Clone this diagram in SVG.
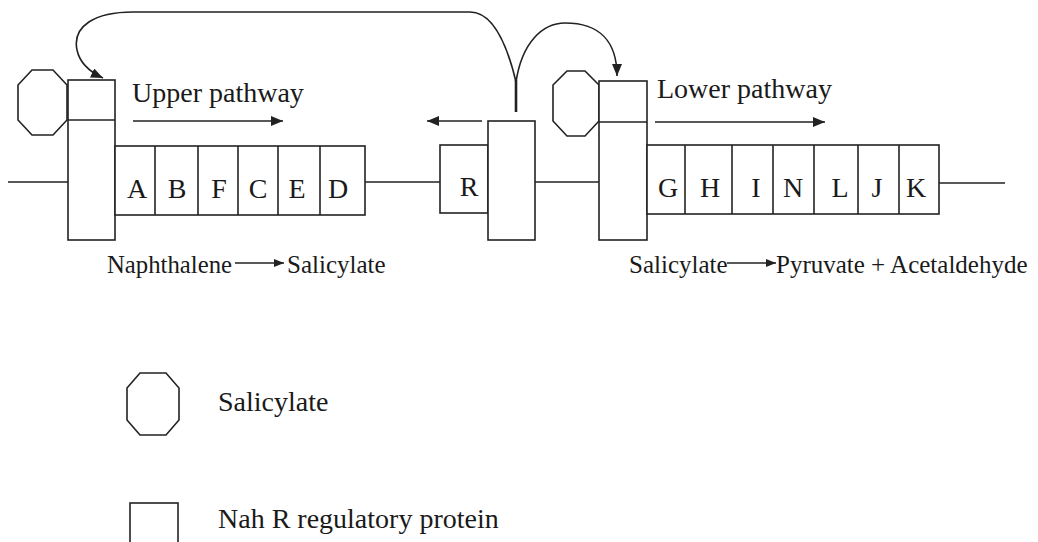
<svg xmlns="http://www.w3.org/2000/svg" width="1038" height="542" viewBox="0 0 1038 542">
<style>
.s{fill:none;stroke:#222;stroke-width:1.6}
.b{fill:#fff;stroke:#222;stroke-width:1.6}
.t{font-family:"Liberation Serif","Times New Roman",serif;fill:#1a1a1a}
.g{font-size:28px;text-anchor:middle}
.l{font-size:28px}
.m{font-size:25px}
</style>
<defs>
<marker id="ah" viewBox="0 0 12 10" refX="12" refY="5" markerWidth="12" markerHeight="10" orient="auto" markerUnits="userSpaceOnUse"><path d="M0,0 L12,5 L0,10 z" fill="#222"/></marker>
<marker id="ahs" viewBox="0 0 10 8" refX="10" refY="4" markerWidth="10" markerHeight="8" orient="auto" markerUnits="userSpaceOnUse"><path d="M0,0 L10,4 L0,8 z" fill="#222"/></marker>
</defs>
<rect width="1038" height="542" fill="#fff"/>

<g id="connectors">
<line class="s" x1="8" y1="182" x2="68" y2="182"/>
<line class="s" x1="365" y1="182" x2="440" y2="182"/>
<line class="s" x1="535" y1="182" x2="599" y2="182"/>
<line class="s" x1="939" y1="183" x2="1005" y2="183"/>
<path class="s" d="M470 12 L133 12 C95 12 72 26 77 50 C80 64 90 72 103 78" marker-end="url(#ah)"/>
<path class="s" d="M470 12 C492 12 506 40 516 82"/>
<path class="s" d="M516 82 C522 42 543 23 565 23 C600 23 617 42 617 76" marker-end="url(#ah)"/>
<line x1="516" y1="80" x2="516" y2="112" stroke="#222" stroke-width="2.6"/>
<line class="s" x1="133" y1="121" x2="283" y2="121" marker-end="url(#ah)"/>
<line class="s" x1="655" y1="122" x2="825" y2="122" marker-end="url(#ah)"/>
<line class="s" x1="482" y1="121" x2="427" y2="121" marker-end="url(#ah)"/>
<line class="s" x1="235" y1="263" x2="284" y2="263" marker-end="url(#ahs)"/>
<line class="s" x1="727" y1="263" x2="776" y2="263" marker-end="url(#ahs)"/>
</g>

<g id="salicylate-upper">
<polygon class="b" points="32,70 53,70 67,85 67,120 53,135 32,135 18,120 18,85"/>
</g>
<g id="nahR-upper">
<rect class="b" x="68" y="80" width="47" height="160"/>
<line class="s" x1="68" y1="120" x2="115" y2="120"/>
</g>
<g id="upper-operon">
<rect class="b" x="115" y="146" width="250" height="69"/>
<line class="s" x1="155" y1="146" x2="155" y2="215"/>
<line class="s" x1="198" y1="146" x2="198" y2="215"/>
<line class="s" x1="238" y1="146" x2="238" y2="215"/>
<line class="s" x1="278" y1="146" x2="278" y2="215"/>
<line class="s" x1="320" y1="146" x2="320" y2="215"/>
<text class="t g" x="137" y="198">A</text>
<text class="t g" x="177" y="198">B</text>
<text class="t g" x="219" y="198">F</text>
<text class="t g" x="258" y="198">C</text>
<text class="t g" x="297" y="198">E</text>
<text class="t g" x="338" y="198">D</text>
</g>
<g id="upper-label">
<text class="t l" x="132" y="102">Upper pathway</text>
</g>

<g id="nahR-gene">
<rect class="b" x="440" y="145" width="48" height="68"/>
<text class="t g" x="469" y="196">R</text>
</g>
<g id="nahR-middle">
<rect class="b" x="488" y="121" width="47" height="119"/>
</g>

<g id="salicylate-lower">
<polygon class="b" points="567,71 585,71 599,85 599,121 585,136 567,136 553,121 553,85"/>
</g>
<g id="nahR-lower">
<rect class="b" x="599" y="81" width="48" height="159"/>
<line class="s" x1="599" y1="122" x2="647" y2="122"/>
</g>
<g id="lower-operon">
<rect class="b" x="647" y="145" width="292" height="69"/>
<line class="s" x1="685" y1="145" x2="685" y2="214"/>
<line class="s" x1="732" y1="145" x2="732" y2="214"/>
<line class="s" x1="773" y1="145" x2="773" y2="214"/>
<line class="s" x1="814" y1="145" x2="814" y2="214"/>
<line class="s" x1="858" y1="145" x2="858" y2="214"/>
<line class="s" x1="899" y1="145" x2="899" y2="214"/>
<text class="t g" x="668" y="197">G</text>
<text class="t g" x="710" y="197">H</text>
<text class="t g" x="756" y="197">I</text>
<text class="t g" x="793" y="197">N</text>
<text class="t g" x="840" y="197">L</text>
<text class="t g" x="877" y="197">J</text>
<text class="t g" x="916" y="197">K</text>
</g>
<g id="lower-label">
<text class="t l" x="657" y="98">Lower pathway</text>
</g>

<g id="reaction-labels">
<text class="t m" x="107" y="273" textLength="125" lengthAdjust="spacingAndGlyphs">Naphthalene</text>
<text class="t m" x="287" y="273">Salicylate</text>
<text class="t m" x="629" y="273">Salicylate</text>
<text class="t m" x="776" y="273">Pyruvate + Acetaldehyde</text>
</g>

<g id="legend-salicylate">
<polygon class="b" points="140,373 166,373 179,388 179,420 166,435 140,435 127,420 127,388"/>
<text class="t l" x="218" y="411">Salicylate</text>
</g>
<g id="legend-nahR">
<rect class="b" x="130" y="503" width="48" height="50"/>
<text class="t l" x="218" y="528">Nah R regulatory protein</text>
</g>
</svg>
